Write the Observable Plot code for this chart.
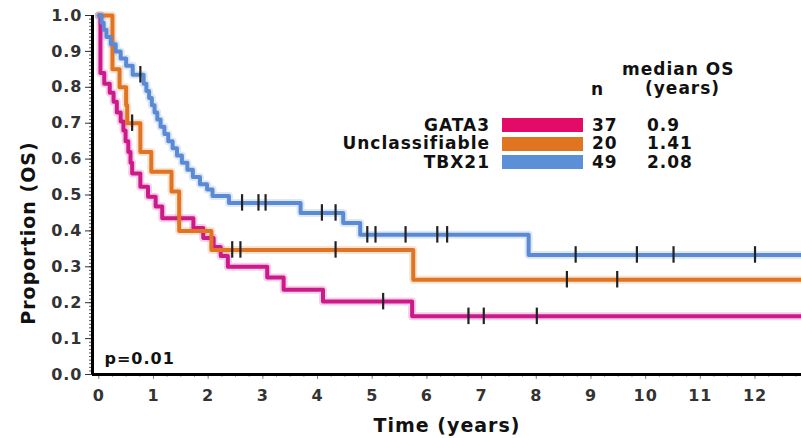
<!DOCTYPE html>
<html>
<head>
<meta charset="utf-8">
<script src="https://cdn.jsdelivr.net/npm/d3@7"></script>
<script src="https://cdn.jsdelivr.net/npm/@observablehq/plot@0.6"></script>
<style>
  html, body { margin: 0; padding: 0; background: #fff; }
  #wrap { position: relative; width: 801px; height: 438px; overflow: hidden; font-family: "DejaVu Sans", Verdana, sans-serif; font-weight: bold; }
  #wrap svg text { letter-spacing: 1px; }
  .lg { position: absolute; font-size: 17px; line-height: 17px; color: #111; letter-spacing: 1px; white-space: nowrap; }
  .sw { position: absolute; width: 81px; height: 14px; }
</style>
</head>
<body>
<div id="wrap"></div>
<script>
// ---------- data ----------
const groups = ["GATA3", "Unclassifiable", "TBX21"];
const nCounts = [37, 20, 49];
const medianOS = ["0.9", "1.41", "2.08"];
const lineColors = ["#cc1a8a", "#e07422", "#5a8ad4"];
const swatchColors = ["#e40a68", "#e07420", "#5b8fd8"];

const gata3Time = [0, 0.03, 0.1, 0.2, 0.27, 0.33, 0.4, 0.45, 0.49, 0.54, 0.58, 0.61, 0.76, 0.9, 1.04, 1.16, 1.73, 1.91, 2.1, 2.23, 2.36, 3.08, 3.38, 4.1, 5.73, 12.9];
const gata3Surv = [1, 0.84, 0.81, 0.785, 0.76, 0.73, 0.705, 0.68, 0.65, 0.62, 0.59, 0.56, 0.523, 0.495, 0.468, 0.435, 0.408, 0.38, 0.355, 0.33, 0.30, 0.27, 0.236, 0.203, 0.162, 0.162];
const gata3Censor = [5.2, 6.76, 7.04, 8.01];

const unclTime = [0, 0.25, 0.38, 0.5, 0.52, 0.76, 0.96, 1.33, 1.47, 2.06, 5.75, 12.9];
const unclSurv = [1, 0.85, 0.80, 0.75, 0.70, 0.62, 0.565, 0.51, 0.40, 0.347, 0.264, 0.264];
const unclCensor = [0.61, 2.44, 2.59, 4.33, 8.56, 9.48];

const tbx21Time = [0, 0.05, 0.09, 0.14, 0.22, 0.31, 0.4, 0.5, 0.62, 0.82, 0.87, 0.92, 0.97, 1.02, 1.07, 1.13, 1.2, 1.27, 1.35, 1.43, 1.52, 1.62, 1.72, 1.85, 1.98, 2.08, 2.38, 3.69, 4.47, 4.78, 7.86, 12.9];
const tbx21Surv = [1, 0.98, 0.96, 0.94, 0.92, 0.90, 0.88, 0.86, 0.835, 0.81, 0.79, 0.77, 0.75, 0.73, 0.71, 0.69, 0.67, 0.65, 0.63, 0.61, 0.59, 0.57, 0.55, 0.53, 0.515, 0.497, 0.478, 0.45, 0.422, 0.389, 0.333, 0.333];
const tbx21Censor = [0.76, 2.62, 2.92, 3.05, 4.08, 4.33, 4.91, 5.06, 5.61, 6.19, 6.37, 8.72, 9.84, 10.51, 12.0];

const xTicks = [0, 1, 2, 3, 4, 5, 6, 7, 8, 9, 10, 11, 12];
const yTicks = [0, 0.1, 0.2, 0.3, 0.4, 0.5, 0.6, 0.7, 0.8, 0.9, 1.0];
const xLabel = "Time (years)";
const yLabel = "Proportion (OS)";
const pText = "p=0.01";
const headerN = "n";
const headerMedian = ["median OS", "(years)"];

// ---------- build tables ----------
const series = [
  {time: gata3Time, surv: gata3Surv, censor: gata3Censor},
  {time: unclTime, surv: unclSurv, censor: unclCensor},
  {time: tbx21Time, surv: tbx21Surv, censor: tbx21Censor}
];
const curves = [];
const censors = [];
series.forEach((s, gi) => {
  s.time.forEach((t, i) => curves.push({group: groups[gi], t, v: s.surv[i]}));
  s.censor.forEach(t => {
    let v = s.surv[0];
    s.time.forEach((tt, i) => { if (tt <= t) v = s.surv[i]; });
    censors.push({group: groups[gi], t, v});
  });
});
const xMinor = d3.range(0, 12.9, 0.25);
const yMinor = d3.range(0, 1.0001, 0.01);

const colorScale = {domain: groups, range: lineColors};

const chart = Plot.plot({
  width: 801,
  height: 438,
  marginLeft: 92,
  marginRight: 0,
  marginTop: 15,
  marginBottom: 64,
  x: {domain: [-0.115, 12.85]},
  y: {domain: [0, 1]},
  color: colorScale,
  style: {fontFamily: "DejaVu Sans, Verdana, sans-serif", fontWeight: "bold", background: "white", overflow: "visible"},
  marks: [
    Plot.axisY(yMinor, {tickSize: 3, tickFormat: () => "", label: null, stroke: "#555"}),
    Plot.axisY(yTicks, {tickSize: 7, tickPadding: 3, tickFormat: d3.format(".1f"), fontSize: 16, label: null, color: "#333"}),
    Plot.axisX(xMinor, {tickSize: 3, tickFormat: () => "", label: null, stroke: "#aaa"}),
    Plot.axisX(xTicks, {tickSize: 5, tickPadding: 10, fontSize: 16, label: null, color: "#333", stroke: "#888"}),
    Plot.line(curves, {x: "t", y: "v", z: "group", stroke: "group", curve: "step-after", strokeWidth: 8, strokeOpacity: 0.2}),
    Plot.line(curves, {x: "t", y: "v", z: "group", stroke: "group", curve: "step-after", strokeWidth: 4}),
    Plot.ruleX(censors, {x: "t", y1: d => d.v - 0.023, y2: d => d.v + 0.023, stroke: "#222", strokeWidth: 2.2}),
    Plot.ruleX([-0.115], {stroke: "#000", strokeWidth: 3}),
    Plot.ruleY([0], {stroke: "#000", strokeWidth: 3}),
    Plot.text([pText], {text: d => d, frameAnchor: "bottom-left", dx: 12, dy: -16, lineAnchor: "middle", textAnchor: "start", fontSize: 16, fill: "#111"}),
    Plot.text([yLabel], {text: d => d, frameAnchor: "left", dx: -64, dy: 38, rotate: -90, textAnchor: "middle", lineAnchor: "middle", fontSize: 19, fill: "#111"}),
    Plot.text([xLabel], {text: d => d, frameAnchor: "bottom", dy: 51, textAnchor: "middle", lineAnchor: "middle", fontSize: 19, fill: "#111"})
  ]
});

const wrap = document.getElementById("wrap");
wrap.append(chart);

// ---------- legend (HTML overlay) ----------
function addText(txt, styles) {
  const el = document.createElement("div");
  el.className = "lg";
  el.textContent = txt;
  Object.assign(el.style, styles);
  wrap.append(el);
  return el;
}
addText(headerN, {left: "591px", top: "81px"});
addText(headerMedian[0], {left: "622px", top: "61px"});
addText(headerMedian[1], {left: "645px", top: "80px"});
groups.forEach((g, i) => {
  const yc = 125 + i * 18.5;
  addText(g, {right: (801 - 490) + "px", top: (yc - 8.5) + "px", textAlign: "right"});
  const sw = document.createElement("div");
  sw.className = "sw";
  Object.assign(sw.style, {left: "502px", top: (yc - 7) + "px", background: swatchColors[i]});
  wrap.append(sw);
  addText(String(nCounts[i]), {left: "592px", top: (yc - 8.5) + "px"});
  addText(medianOS[i], {left: "647px", top: (yc - 8.5) + "px"});
});
</script>
</body>
</html>
